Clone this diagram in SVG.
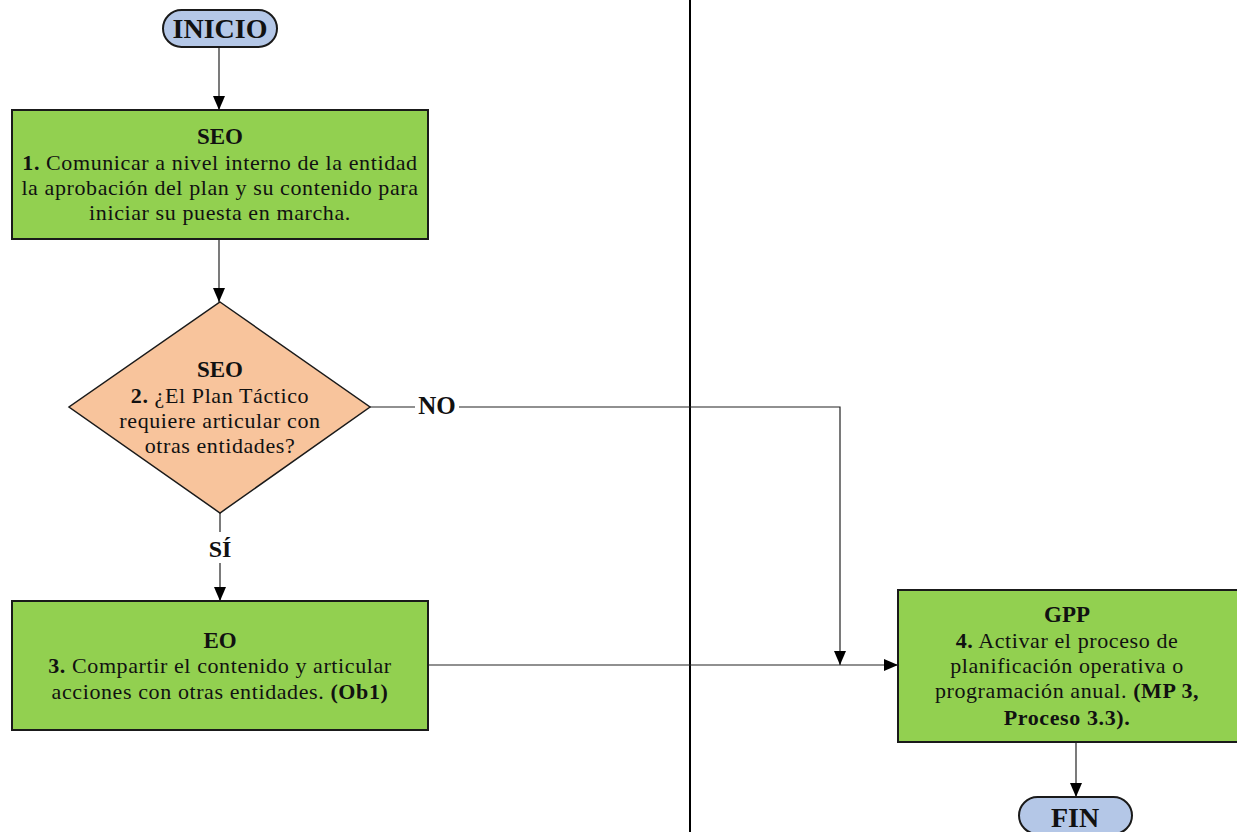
<svg xmlns="http://www.w3.org/2000/svg" width="1237" height="832" viewBox="0 0 1237 832">
<defs>
<marker id="arr" markerUnits="userSpaceOnUse" markerWidth="14" markerHeight="14" viewBox="0 0 14 14" refX="14" refY="7" orient="auto">
<path d="M0,1 L14,7 L0,13 Z" fill="#000"/>
</marker>
<style>
.t{font-family:"Liberation Serif","Times New Roman",serif;fill:#111;text-anchor:middle}
.b{font-size:22px;letter-spacing:0.6px}
.h{font-size:23px;font-weight:bold}
.k{font-weight:bold}
.box{fill:#92d050;stroke:#1a1a1a;stroke-width:2}
.term{fill:#b4c7e7;stroke:#1a1a1a;stroke-width:2}
.dec{fill:#f8c49c;stroke:#1a1a1a;stroke-width:1.5}
.c{fill:none;stroke:#222;stroke-width:1.2}
.ca{fill:none;stroke:#222;stroke-width:1.2;marker-end:url(#arr)}
</style>
</defs>
<line x1="690" y1="0" x2="690" y2="832" stroke="#000" stroke-width="2"/>
<g id="connectors">
<line class="ca" x1="219" y1="47" x2="219" y2="110"/>
<line class="ca" x1="219" y1="239" x2="219" y2="302"/>
<line class="c" x1="370" y1="407" x2="415" y2="407"/>
<polyline class="ca" points="459,407 840,407 840,665"/>
<line class="c" x1="220" y1="513" x2="220" y2="532"/>
<line class="ca" x1="220" y1="563" x2="220" y2="601"/>
<line class="ca" x1="428" y1="665" x2="898" y2="665"/>
<line class="ca" x1="1076" y1="742" x2="1076" y2="797"/>
<text class="t h" style="font-size:25px" x="437" y="414">NO</text>
<text class="t h" style="font-size:24px" x="220" y="557">SÍ</text>
</g>
<g id="inicio">
<rect class="term" x="163" y="10" width="114" height="37" rx="18.5"/>
<text class="t k" style="font-size:28px" x="220" y="38">INICIO</text>
</g>
<g id="step1">
<rect class="box" x="12" y="110" width="416" height="129"/>
<text class="t h" x="220" y="144">SEO</text>
<text class="t b" x="220" y="170"><tspan class="k">1.</tspan> Comunicar a nivel interno de la entidad</text>
<text class="t b" x="220" y="195">la aprobación del plan y su contenido para</text>
<text class="t b" x="220" y="220">iniciar su puesta en marcha.</text>
</g>
<g id="step2">
<polygon class="dec" points="220,302 370,407 220,513 69,407"/>
<text class="t h" x="220" y="377">SEO</text>
<text class="t b" x="220" y="403"><tspan class="k">2.</tspan> ¿El Plan Táctico</text>
<text class="t b" x="220" y="428">requiere articular con</text>
<text class="t b" x="220" y="453">otras entidades?</text>
</g>
<g id="step3">
<rect class="box" x="12" y="601" width="416" height="129"/>
<text class="t h" x="220" y="648">EO</text>
<text class="t b" x="220" y="673"><tspan class="k">3.</tspan> Compartir el contenido y articular</text>
<text class="t b" x="220" y="699">acciones con otras entidades. <tspan class="k">(Ob1)</tspan></text>
</g>
<g id="step4">
<rect class="box" x="898" y="590" width="340" height="152"/>
<text class="t h" x="1067" y="622">GPP</text>
<text class="t b" x="1067" y="648"><tspan class="k">4.</tspan> Activar el proceso de</text>
<text class="t b" x="1067" y="673">planificación operativa o</text>
<text class="t b" x="1067" y="698">programación anual. <tspan class="k">(MP 3,</tspan></text>
<text class="t b k" x="1067" y="725">Proceso 3.3).</text>
</g>
<g id="fin">
<rect class="term" x="1019" y="797" width="113" height="37" rx="18.5"/>
<text class="t k" style="font-size:28px" x="1075" y="827">FIN</text>
</g>
</svg>
